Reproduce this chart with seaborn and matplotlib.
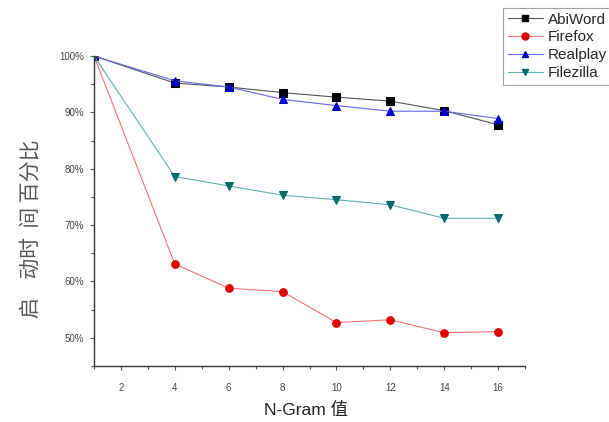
import matplotlib
matplotlib.use("Agg")
import matplotlib.pyplot as plt
import seaborn as sns
import pandas as pd
from matplotlib.ticker import MultipleLocator, FuncFormatter

ngram = [1, 4, 6, 8, 10, 12, 14, 16]
abiword = [100, 95.2, 94.5, 93.5, 92.7, 92.0, 90.3, 87.8]
firefox = [100, 63.1, 58.8, 58.2, 52.7, 53.2, 50.9, 51.1]
realplay = [100, 95.6, 94.5, 92.3, 91.2, 90.2, 90.2, 88.9]
filezilla = [100, 78.6, 76.95, 75.3, 74.5, 73.6, 71.2, 71.2]
series_names = ["AbiWord", "Firefox", "Realplay", "Filezilla"]

sns.set_style("ticks")
plt.rcParams['font.family'] = ['Liberation Sans', 'Noto Sans CJK SC', 'DejaVu Sans']

fig = plt.figure(figsize=(6.09, 4.22), dpi=100)
ax = fig.add_axes([94/609, 1-366/422, (525-94)/609, (366-56)/422])

styles = {
    "AbiWord": dict(color="#000000", line="#555555", marker="s"),
    "Firefox": dict(color="#e00000", line="#ff7070", marker="o"),
    "Realplay": dict(color="#0000cc", line="#6666ee", marker="^"),
    "Filezilla": dict(color="#006b6b", line="#60b0b0", marker="v"),
}
data = dict(zip(series_names, [abiword, firefox, realplay, filezilla]))

handles = []
for name in series_names:
    st = styles[name]
    df = pd.DataFrame({"x": ngram, "y": data[name]})
    sns.lineplot(data=df, x="x", y="y", ax=ax, color=st["line"], linewidth=0.8,
                 marker=st["marker"], markersize=5.5, markerfacecolor=st["color"],
                 markeredgecolor=st["color"], legend=False)
    h, = ax.plot([], [], color=st["line"], linewidth=0.8, marker=st["marker"],
                 markersize=5, markerfacecolor=st["color"], markeredgecolor=st["color"])
    handles.append(h)

ax.set_xlim(1, 17)
ax.set_ylim(45, 100)
ax.xaxis.set_major_locator(MultipleLocator(2))
ax.xaxis.set_minor_locator(MultipleLocator(1))
ax.yaxis.set_major_locator(MultipleLocator(10))
ax.yaxis.set_minor_locator(MultipleLocator(5))
ax.yaxis.set_major_formatter(FuncFormatter(lambda v, p: f"{int(v)}%" if v >= 50 else ""))
ax.xaxis.set_major_formatter(FuncFormatter(lambda v, p: f"{int(v)}" if v >= 2 and v <= 16 else ""))
ax.tick_params(axis="both", which="major", length=3, width=0.8, labelsize=7,
               colors="#555555", labelcolor="#444444", pad=4)
ax.tick_params(axis="x", which="major", pad=9)
ax.tick_params(axis="both", which="minor", length=2, width=0.8, colors="#555555")
for s in ["top", "right"]:
    ax.spines[s].set_visible(False)
for s in ["left", "bottom"]:
    ax.spines[s].set_color("#333333")
    ax.spines[s].set_linewidth(1.0)

ax.set_xlabel("")
ax.set_ylabel("")
fig.text(306/609, 1-410/422, "N-Gram 值", fontsize=12.5, color="#222222",
         ha="center", va="center")
fig.text(31/609, 1-229/422, "启    动时  间 百分比", fontsize=15,
         color="#555555", rotation=90, ha="center", va="center",
         family=['Noto Sans CJK SC'])

leg = fig.legend(handles, series_names, loc="upper left",
                 bbox_to_anchor=(503/609, 1-8/422), borderaxespad=0,
                 frameon=True, fontsize=11,
                 handlelength=2.3, handletextpad=0.35, borderpad=0.3,
                 labelspacing=0.25, fancybox=False, edgecolor="#888888")
leg.get_frame().set_linewidth(0.8)

fig.savefig("out.png", dpi=100)
